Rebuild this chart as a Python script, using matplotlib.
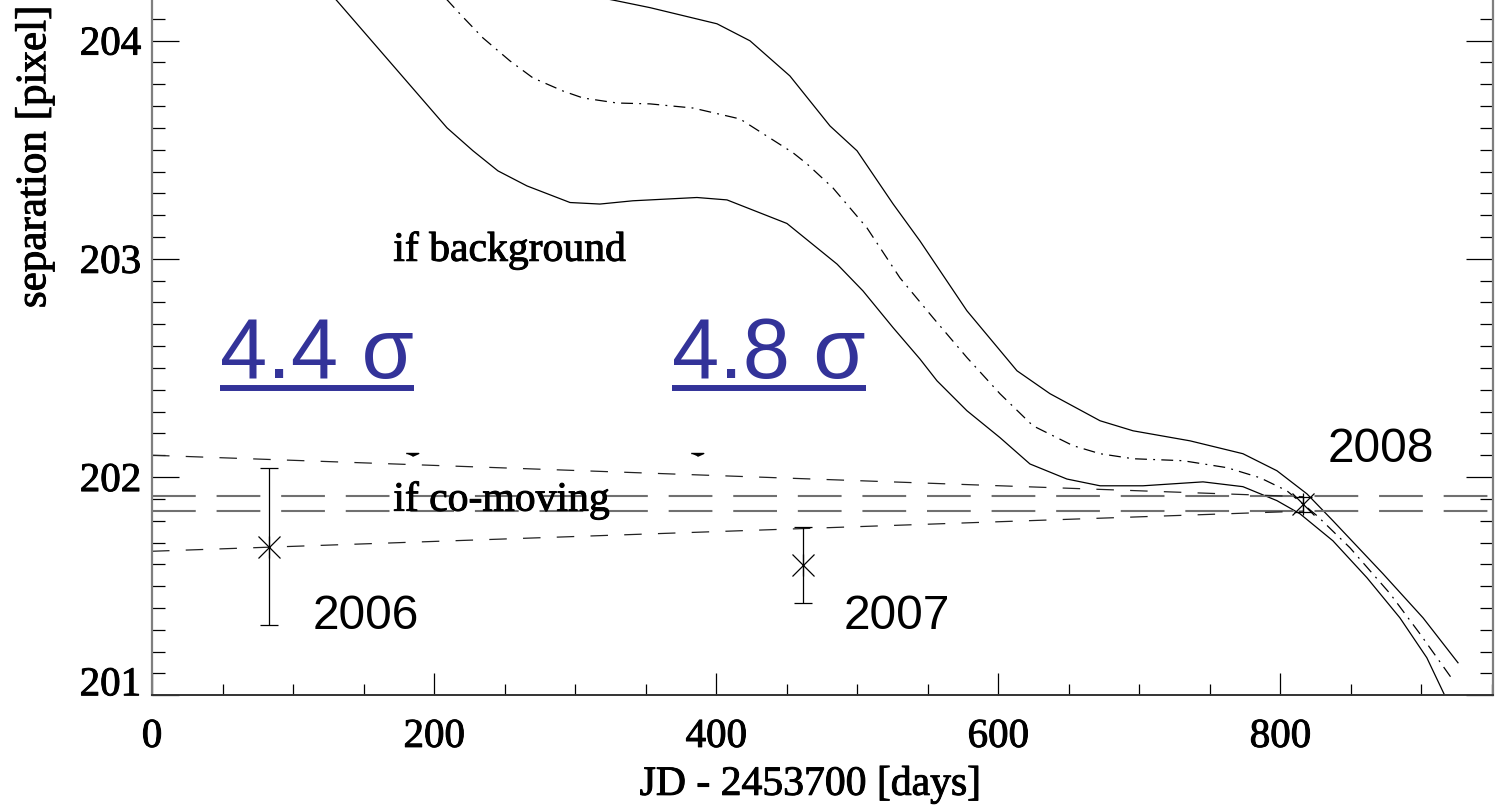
import numpy as np
import matplotlib.pyplot as plt
import matplotlib.patheffects as pe
from matplotlib.ticker import MultipleLocator

plt.rcParams['font.family'] = 'Liberation Serif'

# astrometric epochs: days since JD 2453700, separation and 1-sigma error
days_obs = [83.2, 461.8, 816.3]
sep_obs = [201.68, 201.597, 201.876]
sep_err = [0.36, 0.175, 0.034]
year_labels = ['2006', '2007', '2008']

# background-object track (centre and error envelope)
bg_days_lo = [115, 131.2, 209.2, 227.6, 245.3, 265.9, 296.4, 317.6, 341.0, 386.4, 407.7,
              450.2, 485.7, 504.1, 525.4, 544.5, 556.6, 577.8, 601.2, 622.5, 648.7,
              672.2, 702.6, 745.2, 773.5, 797.6, 813.9, 837.3, 861.4, 884.8, 903.9, 916.7, 926]
bg_sep_lo = [204.30, 204.182, 203.600, 203.495, 203.403, 203.334, 203.258, 203.251, 203.266,
             203.281, 203.270, 203.162, 202.976, 202.853, 202.685, 202.541, 202.441, 202.304,
             202.181, 202.060, 201.991, 201.960, 201.960, 201.978, 201.956, 201.892, 201.832,
             201.708, 201.539, 201.355, 201.172, 200.998, 200.92]

bg_days_mid = [200, 209.9, 218.4, 234.7, 253.8, 270.1, 291.4, 305.6, 329.7, 353.1, 383.6, 416.9,
               454.5, 464.4, 482.8, 506.9, 530.3, 553.8, 577.9, 601.2, 624.6, 653.0, 672.2,
               695.6, 731.0, 762.2, 785.6, 804.7, 826.0, 849.4, 877.8, 899.0, 921.7]
bg_sep_mid = [204.25, 204.182, 204.122, 204.012, 203.907, 203.829, 203.769, 203.737, 203.714,
              203.710, 203.691, 203.641, 203.486, 203.435, 203.325, 203.142, 202.913, 202.730,
              202.547, 202.382, 202.235, 202.144, 202.107, 202.084, 202.075, 202.043, 201.997,
              201.937, 201.823, 201.676, 201.466, 201.282, 201.076]

bg_days_hi = [300, 329.7, 353.1, 400.6, 424.0, 452.3, 480.7, 499.9, 525.4, 544.5, 577.8, 613.3,
              636.7, 672.2, 695.6, 736.0, 773.5, 797.6, 818.9, 837.3, 872.8, 901.2, 926.0]
bg_sep_hi = [204.22, 204.182, 204.151, 204.077, 203.999, 203.838, 203.609, 203.495, 203.252,
             203.082, 202.762, 202.487, 202.382, 202.258, 202.212, 202.166, 202.107, 202.029,
             201.923, 201.800, 201.557, 201.355, 201.149]

# co-moving case: 2008 position with its error, and the cone back in time
comov_days = [0, 816.3]
comov_hi = [202.10, 201.91]
comov_lo = [201.66, 201.844]
band_2008 = [201.844, 201.911]

# significance of the deviation from the background track
sigma_labels = ['4.4 σ', '4.8 σ']
sigma_days = [48.2, 368.7]
sigma_sep = 202.456
arrow_days = [184.3, 386.4]
arrow_sep = 202.111

# slightly heavier serif glyphs
heavy = [pe.withStroke(linewidth=0.7, foreground='k')]

fig = plt.figure(figsize=(15.08, 8.07), dpi=100)
ax = fig.add_axes([152 / 1508, 1 - 695.3 / 807, 1340.7 / 1508, 695.3 / 807])

ax.plot(bg_days_lo, bg_sep_lo, color='k', lw=0.9)
ax.plot(bg_days_hi, bg_sep_hi, color='k', lw=0.9)
ax.plot(bg_days_mid, bg_sep_mid, color='k', lw=0.9, linestyle=(0, (9.5, 5, 1.5, 5)))

for y in band_2008:
    ax.axhline(y, color='#707070', lw=1.5, linestyle=(0, (21, 10)))
ax.plot(comov_days, comov_hi, color='#222222', lw=0.9, linestyle=(0, (14, 13)))
ax.plot(comov_days, comov_lo, color='#222222', lw=0.9, linestyle=(0, (14, 13)))

ax.errorbar(days_obs, sep_obs, yerr=sep_err, fmt='none', ecolor='k',
            elinewidth=0.9, capsize=6.5, capthick=0.9)
ax.plot(days_obs, sep_obs, 'x', ms=16.5, mew=0.9, color='k')
ax.plot(days_obs, sep_obs, '|', ms=16.5, mew=0.9, color='k')

ax.plot(arrow_days, [arrow_sep] * 2, ls='none', color='k', ms=9,
        marker=[(-1, 0), (1, 0), (0, -0.45)])

# year labels next to each epoch
year_pos = [(114.2, 201.304), (490.1, 201.304), (833.6, 202.067)]
for lab, (xx, yy) in zip(year_labels, year_pos):
    ax.text(xx, yy, lab, fontsize=34.5, family='Liberation Sans', va='baseline')

ax.text(171.1, 202.991, 'if background', fontsize=30, va='baseline', path_effects=heavy)
ax.text(171.1, 201.846, 'if co-moving', fontsize=30, va='baseline', path_effects=heavy)

sigma_texts = []
for lab, xx in zip(sigma_labels, sigma_days):
    t = ax.text(xx, sigma_sep, lab, fontsize=61, family='Liberation Sans',
                color='#333399', va='baseline')
    sigma_texts.append(t)

ax.set_xlim(0, 950.6)
ax.set_ylim(201, 204.186)
ax.set_xticks([0, 200, 400, 600, 800])
ax.set_yticks([201, 202, 203, 204])
ax.xaxis.set_minor_locator(MultipleLocator(50))
ax.yaxis.set_minor_locator(MultipleLocator(0.1))
ax.tick_params(which='both', direction='in', right=True, top=False, width=0.9, color='k')
ax.tick_params(axis='y', which='major', length=19.4, labelsize=29.5, pad=8)
ax.tick_params(axis='y', which='minor', length=9.4)
ax.tick_params(axis='x', which='major', length=15.8, labelsize=29.5, pad=17)
ax.tick_params(axis='x', which='minor', length=7.9)
for lab in ax.get_xticklabels() + ax.get_yticklabels():
    lab.set_path_effects(heavy)

ax.spines['top'].set_visible(False)
for side in ['left', 'right']:
    ax.spines[side].set_color('#7f7f7f')
    ax.spines[side].set_linewidth(1.6)
ax.spines['bottom'].set_color('#333333')
ax.spines['bottom'].set_linewidth(1.4)

ax.set_xlabel('JD - 2453700 [days]', fontsize=30, path_effects=heavy)
ax.xaxis.set_label_coords(0.491, -0.1)
ax.set_ylabel('separation [pixel]', fontsize=31, va='center', path_effects=heavy)
ax.yaxis.set_label_coords(-0.0873, 0.774)

ax.yaxis.get_major_ticks()[0].label1.set_va('baseline')

# underline the significance labels
fig.canvas.draw()
to_axes = ax.transAxes.inverted()
for t in sigma_texts:
    bb = t.get_window_extent()
    base = ax.transData.transform((t.get_position()[0], sigma_sep))[1]
    (x0, y0), (x1, _) = to_axes.transform([(bb.x0, base - 10.6), (bb.x1, base - 10.6)])
    ax.plot([x0, x1], [y0, y0], transform=ax.transAxes, color='#333399',
            lw=4.3, solid_capstyle='butt', clip_on=False)

fig.savefig('out.png', dpi=100)
